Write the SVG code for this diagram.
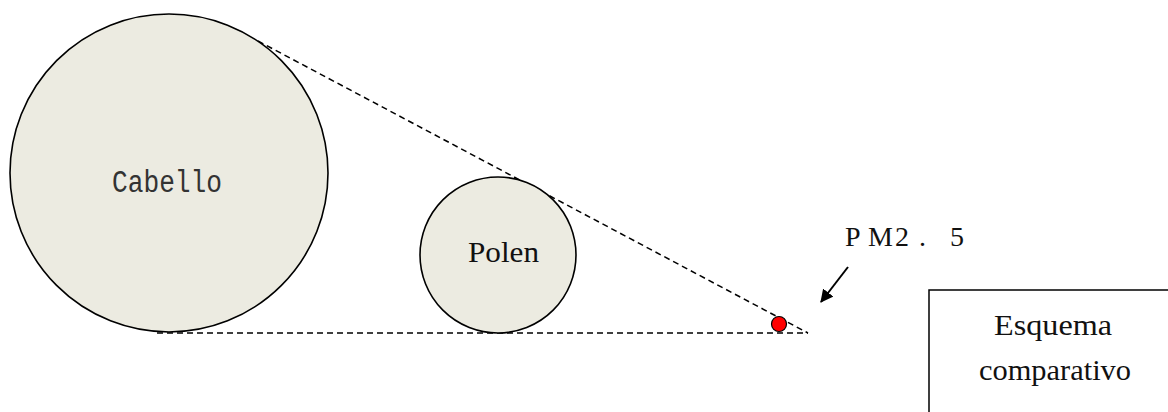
<svg xmlns="http://www.w3.org/2000/svg" width="1168" height="412" viewBox="0 0 1168 412">
  <style>
    .particle { fill: #ecebe1; stroke: #000; stroke-width: 1.6; }
    .guide { fill: none; stroke: #000; stroke-width: 1.5; stroke-dasharray: 6 4; }
    .serif { font-family: "Liberation Serif", "Times New Roman", serif; fill: #111; }
    .mono { font-family: "Liberation Mono", "Courier New", monospace; fill: #333; }
  </style>
  <defs>
    <marker id="arrowhead" viewBox="0 0 12 12" refX="11" refY="6" markerWidth="13" markerHeight="13" markerUnits="userSpaceOnUse" orient="auto">
      <path d="M0,0 L12,6 L0,12 Z" fill="#000"/>
    </marker>
  </defs>

  <rect width="1168" height="412" fill="#fff"/>

  <!-- tangent guide lines and the pointer arrow -->
  <g id="connectors">
    <line class="guide" x1="258" y1="41" x2="808" y2="333"/>
    <line class="guide" x1="157" y1="333" x2="808" y2="333"/>
    <line x1="848" y1="267" x2="821" y2="302" stroke="#000" stroke-width="2" marker-end="url(#arrowhead)"/>
  </g>

  <g id="cabello">
    <circle class="particle" cx="169" cy="173" r="159"/>
    <text class="mono" x="112" y="192" font-size="31" textLength="110" lengthAdjust="spacingAndGlyphs">Cabello</text>
  </g>

  <g id="polen">
    <circle class="particle" cx="498" cy="255" r="78"/>
    <text class="serif" x="468" y="262" font-size="30" textLength="71" lengthAdjust="spacingAndGlyphs">Polen</text>
  </g>

  <g id="pm25">
    <circle cx="779" cy="324" r="7.5" fill="#ff0000" stroke="#000" stroke-width="1.2"/>
    <text class="serif" y="246" font-size="28"><tspan x="845">P</tspan><tspan x="868">M</tspan><tspan x="895">2</tspan><tspan x="919">.</tspan><tspan x="950">5</tspan></text>
  </g>

  <g id="legend">
    <rect x="929" y="290" width="300" height="200" fill="#fff" stroke="#000" stroke-width="1.5"/>
    <text class="serif" x="994" y="335" font-size="30" textLength="118" lengthAdjust="spacingAndGlyphs">Esquema</text>
    <text class="serif" x="979" y="380" font-size="30" textLength="152" lengthAdjust="spacingAndGlyphs">comparativo</text>
  </g>
</svg>
